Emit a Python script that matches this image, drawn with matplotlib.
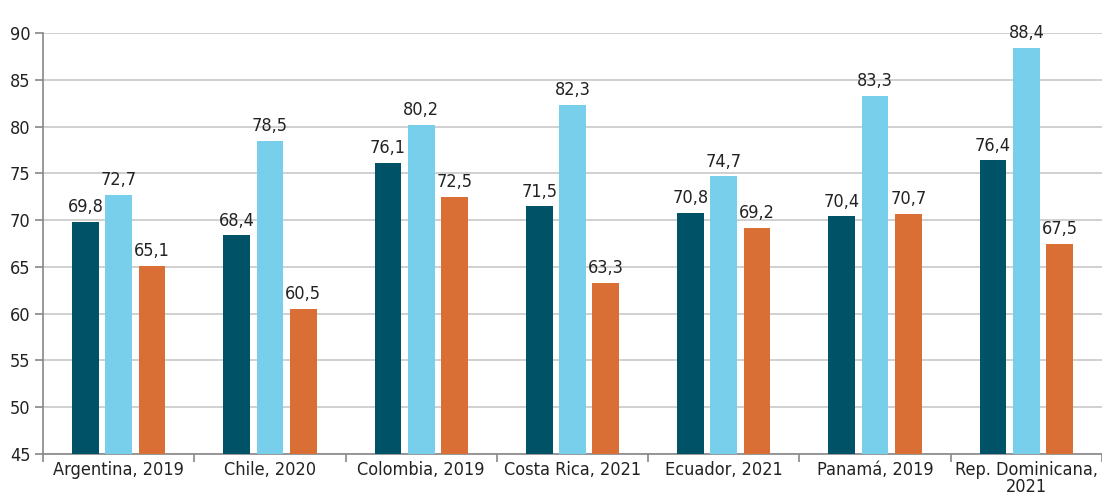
import matplotlib
matplotlib.use("Agg")
import matplotlib.pyplot as plt
import numpy as np
from matplotlib import font_manager

categories = ["Argentina, 2019", "Chile, 2020", "Colombia, 2019", "Costa Rica, 2021",
              "Ecuador, 2021", "Panamá, 2019", "Rep. Dominicana,\n2021"]
serie_1 = [69.8, 68.4, 76.1, 71.5, 70.8, 70.4, 76.4]
serie_2 = [72.7, 78.5, 80.2, 82.3, 74.7, 83.3, 88.4]
serie_3 = [65.1, 60.5, 72.5, 63.3, 69.2, 70.7, 67.5]
yticks = [45, 50, 55, 60, 65, 70, 75, 80, 85, 90]

colors = ["#005366", "#77CFEC", "#D96F35"]

condensed = [f for f in font_manager.fontManager.ttflist
             if "condensed" in f.fname.lower() or f.stretch in ("condensed", "semi-condensed")]
cands = [f for f in condensed if f.weight in (400, "normal", "regular") and f.style == "normal"]
if cands:
    fp = font_manager.FontProperties(fname=cands[0].fname)
    fam = cands[0].name
    plt.rcParams['font.family'] = [fam, 'DejaVu Sans']
    plt.rcParams['font.stretch'] = cands[0].stretch
else:
    plt.rcParams['font.family'] = ['DejaVu Sans']

fig = plt.figure(figsize=(11.02, 5.03), dpi=100)
ax = fig.add_axes([43/1102, 1 - 454/503, (1102-43)/1102, (454-33)/503])

x = np.arange(len(categories))
w = 0.177
offs = [-0.22, 0.0, 0.22]
for s, (vals, c, o) in enumerate(zip([serie_1, serie_2, serie_3], colors, offs)):
    ax.bar(x + o, np.array(vals) - 45, width=w, bottom=45, color=c, zorder=3)
    for xi, v in zip(x + o, vals):
        ax.annotate(f"{v:.1f}".replace(".", ","), (xi, v), xytext=(0, 4),
                    textcoords="offset points", ha="center", va="bottom",
                    fontsize=13, color="#222222")

ax.set_xlim(-0.5, len(categories) - 0.5)
ax.set_ylim(45, 90)
ax.set_yticks(yticks)
ax.set_yticklabels([str(t) for t in yticks], fontsize=13, color="#222222")
ax.yaxis.grid(True, color="#c8c8c8", linewidth=1.2, zorder=0)
ax.set_axisbelow(True)

ax.set_xticks(x)
ax.set_xticklabels(categories, fontsize=13, color="#222222", linespacing=0.95)
ax.set_xticks(np.arange(len(categories) + 1) - 0.5, minor=True)
ax.tick_params(axis='x', which='major', length=0, pad=5)
ax.tick_params(axis='x', which='minor', length=6, color="#888888", width=1.2)
ax.tick_params(axis='y', length=6, color="#888888", width=1.2, pad=3)

for sp in ["top", "right"]:
    ax.spines[sp].set_visible(False)
for sp in ["left", "bottom"]:
    ax.spines[sp].set_color("#888888")
    ax.spines[sp].set_linewidth(1.2)

fig.savefig("out.png", dpi=100)
